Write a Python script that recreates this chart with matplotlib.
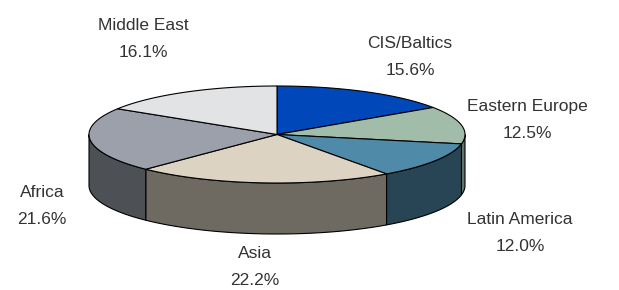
import numpy as np
import matplotlib.pyplot as plt
from matplotlib.patches import Polygon

labels = ["CIS/Baltics", "Eastern Europe", "Latin America", "Asia", "Africa", "Middle East"]
shares = [15.6, 12.5, 12.0, 22.2, 21.6, 16.1]
top_colors = ["#0047b9", "#a1bdaa", "#4f8aa8", "#dcd3c2", "#9ba0aa", "#e2e3e5"]
side_colors = ["#002a70", "#5f7566", "#284555", "#6e6a62", "#4d5156", "#88898b"]

# layout in pixel units
cx, cy, rx, ry, depth = 277, 134.5, 188, 48.5, 51
label_pos = [(410, 57), (527, 120), (520, 233), (255, 267), (42, 206), (143, 39)]

fig = plt.figure(figsize=(6.19, 2.9), dpi=100)
ax = fig.add_axes([0, 0, 1, 1])
ax.set_xlim(0, 619)
ax.set_ylim(290, 0)
ax.axis("off")

def pt(t, dy=0):
    return cx + rx * np.cos(t), cy - ry * np.sin(t) + dy

cum = np.concatenate([[0], np.cumsum(shares)]) / sum(shares)
angles = np.deg2rad(90 - 360 * cum)

# side walls (front half only: angle between -180 and 0 deg)
for i in range(len(shares)):
    a1, a2 = angles[i], angles[i + 1]
    lo, hi = max(a2, -np.pi), min(a1, 0)
    if hi <= lo:
        continue
    t = np.linspace(hi, lo, 80)
    xs, ys = pt(t)
    xb, yb = pt(t[::-1], depth)
    poly = np.column_stack([np.concatenate([xs, xb]), np.concatenate([ys, yb])])
    ax.add_patch(Polygon(poly, closed=True, facecolor=side_colors[i],
                         edgecolor="black", linewidth=0.8))

# top wedges
for i in range(len(shares)):
    t = np.linspace(angles[i], angles[i + 1], 120)
    xs, ys = pt(t)
    poly = np.column_stack([np.concatenate([[cx], xs]), np.concatenate([[cy], ys])])
    ax.add_patch(Polygon(poly, closed=True, facecolor=top_colors[i],
                         edgecolor="black", linewidth=0.8, joinstyle="round"))

for lab, s, (x, y) in zip(labels, shares, label_pos):
    ax.text(x, y, f"{lab}\n{s:.1f}%", ha="center", va="center", fontsize=12.5,
            family="Liberation Sans", color="#333333", linespacing=2.05)

fig.savefig("out.png", dpi=100)
